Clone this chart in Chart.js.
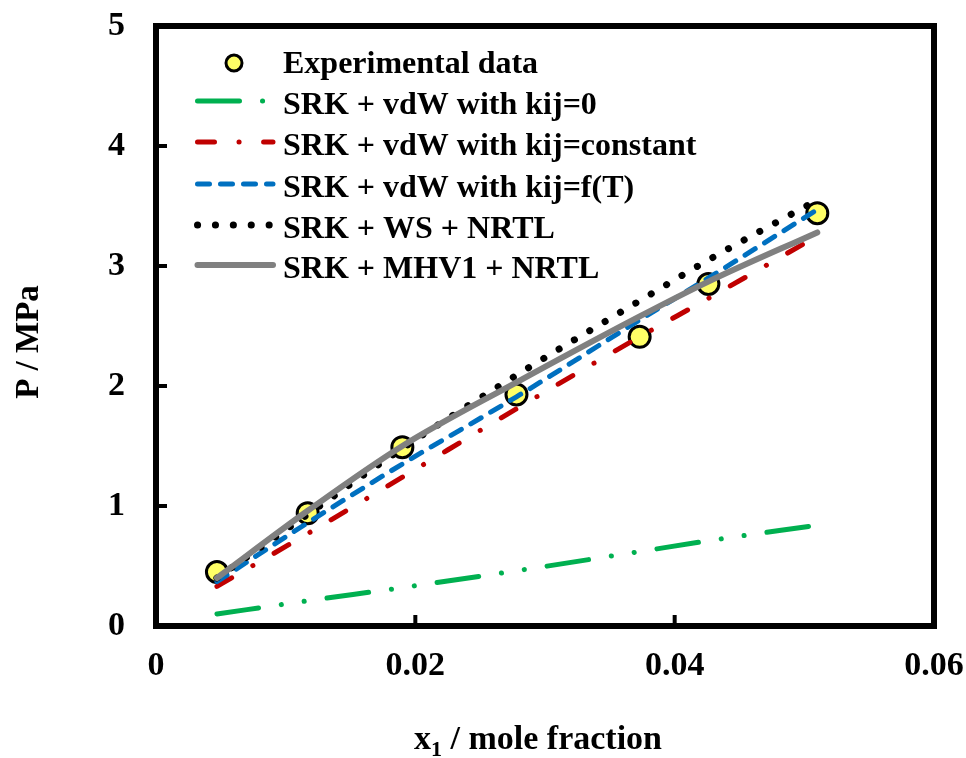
<!DOCTYPE html>
<html lang="en">
<head>
<meta charset="UTF-8">
<title>P vs x1</title>
<script src="https://cdn.jsdelivr.net/npm/chart.js@4.4.0/dist/chart.umd.min.js"></script>
<style>
    * { margin: 0; padding: 0; box-sizing: border-box; }
    body { background: #fff; width: 966px; height: 758px; overflow: hidden; }
    canvas { display: block; }
</style>
</head>
<body>
<canvas id="chart" width="966" height="758"></canvas>
<script>
// experimental points
const xExp = [0.0047, 0.0117, 0.0190, 0.0278, 0.0373, 0.0426, 0.0510];
const pExp = [0.45, 0.94, 1.49, 1.93, 2.41, 2.85, 3.44];

// model curves, read on the same x grid
const xModel    = [0.0047, 0.0117, 0.0190, 0.0278, 0.0373, 0.0426, 0.0510];
const pKij0     = [0.10, 0.21, 0.32, 0.46, 0.62, 0.71, 0.84];
const pKijConst = [0.33, 0.77, 1.24, 1.81, 2.41, 2.73, 3.25];
const pKijT     = [0.37, 0.86, 1.35, 1.91, 2.55, 2.90, 3.47];
const pWS       = [0.40, 0.93, 1.48, 2.09, 2.71, 3.05, 3.55];
const pMHV1     = [0.40, 0.96, 1.50, 2.03, 2.58, 2.87, 3.28];

const seriesNames = [
    'Experimental data',
    'SRK + vdW with kij=0',
    'SRK + vdW with kij=constant',
    'SRK + vdW with kij=f(T)',
    'SRK + WS + NRTL',
    'SRK + MHV1 + NRTL'
];

const xTickVals = [0, 0.02, 0.04, 0.06];
const xTickLabels = ['0', '0.02', '0.04', '0.06'];
const yTickVals = [0, 1, 2, 3, 4, 5];
const yTickLabels = ['0', '1', '2', '3', '4', '5'];

const FONT = '"Liberation Serif", "Times New Roman", serif';

const pts = (xs, ys) => xs.map((x, i) => ({ x: x, y: ys[i] }));

function lineSet(label, ys, color, width, dash, order) {
    return {
        label: label,
        data: pts(xModel, ys),
        borderColor: color,
        borderWidth: width,
        borderDash: dash,
        borderCapStyle: 'round',
        pointRadius: 0,
        fill: false,
        cubicInterpolationMode: 'monotone',
        order: order
    };
}

// frame, inward ticks, axis titles and legend
const decor = {
    id: 'decor',
    afterDatasetsDraw(chart) {
        const { ctx, chartArea: a, scales } = chart;
        ctx.save();
        ctx.strokeStyle = '#000';
        ctx.fillStyle = '#000';

        // inward ticks
        ctx.lineWidth = 4;
        ctx.lineCap = 'butt';
        yTickVals.slice(1, -1).forEach(v => {
            const py = scales.y.getPixelForValue(v);
            ctx.beginPath(); ctx.moveTo(a.left, py); ctx.lineTo(a.left + 11, py); ctx.stroke();
        });
        xTickVals.slice(1, -1).forEach(v => {
            const px = scales.x.getPixelForValue(v);
            ctx.beginPath(); ctx.moveTo(px, a.bottom); ctx.lineTo(px, a.bottom - 11); ctx.stroke();
        });

        // box
        ctx.lineWidth = 6;
        ctx.lineJoin = 'miter';
        ctx.strokeRect(a.left, a.top, a.width, a.height);

        // y title
        ctx.save();
        ctx.translate(38, 342);
        ctx.rotate(-Math.PI / 2);
        ctx.font = 'bold 33px ' + FONT;
        ctx.textAlign = 'center';
        ctx.textBaseline = 'alphabetic';
        ctx.fillText('P / MPa', 0, 0);
        ctx.restore();

        // x title with subscript
        ctx.textBaseline = 'alphabetic';
        ctx.textAlign = 'left';
        const big = 'bold 34px ' + FONT, small = 'bold 22px ' + FONT;
        ctx.font = big; const w1 = ctx.measureText('x').width;
        const w3 = ctx.measureText(' / mole fraction').width;
        ctx.font = small; const w2 = ctx.measureText('1').width;
        let x0 = 538 - (w1 + w2 + w3) / 2;
        ctx.font = big; ctx.fillText('x', x0, 749);
        ctx.font = small; ctx.fillText('1', x0 + w1, 756);
        ctx.font = big; ctx.fillText(' / mole fraction', x0 + w1 + w2, 749);

        // legend
        const rows = [63, 104, 145, 187, 228, 268];
        ctx.font = 'bold 32px ' + FONT;
        ctx.textBaseline = 'middle';
        chart.data.datasets.forEach((ds, i) => {
            const y = rows[i];
            if (i === 0) {
                ctx.beginPath();
                ctx.arc(234, y, 8, 0, Math.PI * 2);
                ctx.fillStyle = ds.backgroundColor;
                ctx.fill();
                ctx.lineWidth = 3;
                ctx.strokeStyle = ds.borderColor;
                ctx.stroke();
            } else {
                ctx.beginPath();
                ctx.setLineDash(ds.borderDash || []);
                ctx.lineCap = 'round';
                ctx.lineWidth = ds.borderWidth;
                ctx.strokeStyle = ds.borderColor;
                ctx.moveTo(197.5, y - 3);
                ctx.lineTo(273, y - 3);
                ctx.stroke();
                ctx.setLineDash([]);
            }
            ctx.fillStyle = '#000';
            ctx.fillText(ds.label, 283, y + 2);
        });
        ctx.restore();
    }
};

new Chart(document.getElementById('chart'), {
    type: 'line',
    data: {
        datasets: [
            {
                label: seriesNames[0],
                data: pts(xExp, pExp),
                showLine: false,
                pointRadius: 10.5,
                pointBorderWidth: 3,
                backgroundColor: '#ffff66',
                borderColor: '#000',
                pointBackgroundColor: '#ffff66',
                pointBorderColor: '#000',
                order: 6
            },
            lineSet(seriesNames[1], pKij0, '#00b050', 5, [42, 23, 0.1, 23, 0.1, 23], 5),
            lineSet(seriesNames[2], pKijConst, '#c00000', 5, [17, 24.5, 0.1, 24.5], 4),
            lineSet(seriesNames[3], pKijT, '#0070c0', 5, [12, 11], 3),
            lineSet(seriesNames[4], pWS, '#000000', 7, [0.1, 17.8], 2),
            lineSet(seriesNames[5], pMHV1, '#808080', 6, [], 1)
        ]
    },
    options: {
        responsive: false,
        animation: false,
        layout: { autoPadding: false, padding: { left: 0, top: 26, right: 32, bottom: 0 } },
        plugins: {
            legend: { display: false },
            tooltip: { enabled: false }
        },
        scales: {
            x: {
                type: 'linear',
                min: 0,
                max: 0.06,
                grid: { display: false, drawTicks: false },
                border: { display: false },
                afterBuildTicks: s => { s.ticks = xTickVals.map(v => ({ value: v })); },
                afterFit: s => { s.height = 132; s.paddingLeft = 0; s.paddingRight = 0; },
                ticks: {
                    padding: 20,
                    color: '#000',
                    font: { family: FONT, size: 34, weight: 'bold' },
                    callback: (v, i) => xTickLabels[i]
                }
            },
            y: {
                min: 0,
                max: 5,
                grid: { display: false, drawTicks: false },
                border: { display: false },
                afterBuildTicks: s => { s.ticks = yTickVals.map(v => ({ value: v })); },
                afterFit: s => { s.width = 156; s.paddingTop = 0; s.paddingBottom = 0; },
                ticks: {
                    padding: 31,
                    color: '#000',
                    font: { family: FONT, size: 34, weight: 'bold' },
                    callback: (v, i) => yTickLabels[i]
                }
            }
        }
    },
    plugins: [decor]
});
</script>
</body>
</html>
